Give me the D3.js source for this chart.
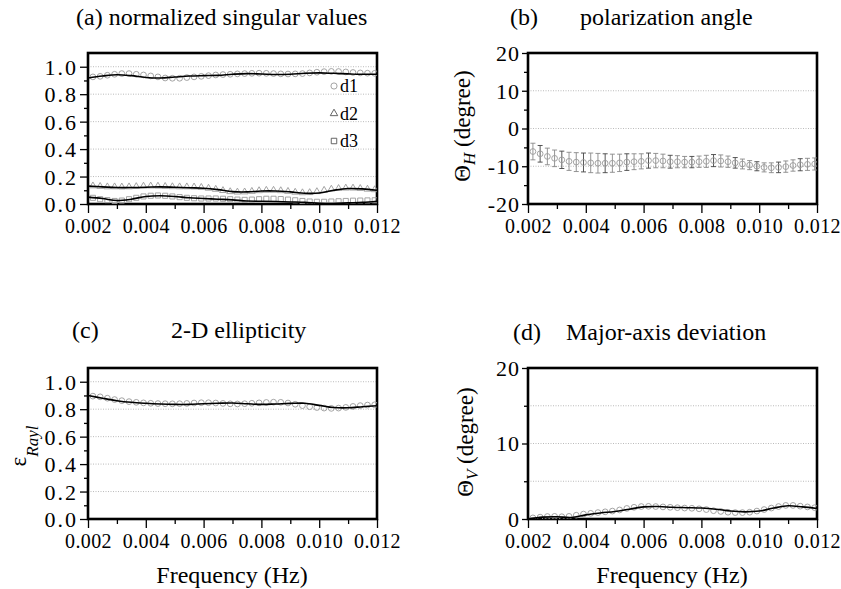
<!DOCTYPE html>
<html><head><meta charset="utf-8">
<script src="https://cdn.jsdelivr.net/npm/d3@7"></script>
<style>body{margin:0;background:#fff}svg{display:block}text{font-family:"Liberation Serif","Times New Roman",serif;fill:#000}</style>
</head><body>
<svg id="c" width="841" height="589"></svg>
<script>
// ---------- data ----------
const freqs = [0.00217,0.00242,0.00267,0.00292,0.00317,0.00342,0.00367,0.00392,0.00417,0.00442,
  0.00467,0.00492,0.00517,0.00542,0.00567,0.00592,0.00617,0.00642,0.00667,0.00692,
  0.00717,0.00742,0.00767,0.00792,0.00817,0.00842,0.00867,0.00892,0.00917,0.00942,
  0.00967,0.00992,0.01017,0.01042,0.01067,0.01092,0.01117,0.01142,0.01167,0.01192];
const fitFreqs = [0.002,0.0025,0.003,0.0035,0.004,0.0045,0.005,0.0055,0.006,0.0065,0.007,
  0.0075,0.008,0.0085,0.009,0.0095,0.010,0.0105,0.011,0.0115,0.012];
const xTicks = [0.002,0.004,0.006,0.008,0.010,0.012];

// (a) normalized singular values
const d1 = [0.926,0.930,0.938,0.945,0.950,0.950,0.945,0.940,0.933,0.926,
  0.918,0.916,0.916,0.921,0.926,0.930,0.935,0.940,0.943,0.945,
  0.948,0.950,0.952,0.953,0.952,0.950,0.948,0.947,0.948,0.950,
  0.955,0.960,0.964,0.966,0.965,0.962,0.958,0.955,0.953,0.952];
const d2 = [0.132,0.128,0.125,0.125,0.124,0.125,0.127,0.130,0.131,0.130,
  0.128,0.126,0.125,0.125,0.124,0.121,0.115,0.107,0.098,0.090,
  0.087,0.088,0.092,0.097,0.100,0.100,0.097,0.092,0.086,0.082,
  0.083,0.090,0.100,0.108,0.113,0.116,0.116,0.113,0.108,0.104];
const d3v = [0.045,0.035,0.028,0.022,0.025,0.035,0.045,0.055,0.060,0.062,
  0.060,0.055,0.050,0.045,0.042,0.040,0.040,0.040,0.038,0.035,
  0.032,0.030,0.032,0.035,0.038,0.038,0.036,0.032,0.027,0.022,
  0.018,0.016,0.016,0.018,0.020,0.022,0.024,0.025,0.026,0.027];
const d1Fit = [0.918,0.932,0.942,0.935,0.922,0.918,0.925,0.932,0.935,0.937,0.945,
  0.950,0.947,0.943,0.945,0.952,0.955,0.952,0.948,0.945,0.945];
const d2Fit = [0.130,0.125,0.120,0.120,0.122,0.125,0.122,0.118,0.115,0.105,0.090,
  0.088,0.095,0.095,0.088,0.078,0.080,0.100,0.113,0.110,0.100];
const d3Fit = [0.050,0.040,0.025,0.035,0.055,0.060,0.055,0.045,0.040,0.035,0.030,
  0.022,0.020,0.018,0.015,0.012,0.006,0.004,0.008,0.012,0.020];
const legendLabels = ["d1","d2","d3"];

// (b) polarization angle (degree) with error half-widths
const thetaH = [-6.1,-6.7,-7.4,-7.9,-8.3,-8.7,-8.9,-9.0,-9.1,-9.2,
  -9.2,-9.2,-9.1,-8.9,-8.8,-8.7,-8.5,-8.5,-8.6,-8.8,
  -8.8,-8.9,-8.9,-8.8,-8.7,-8.5,-8.6,-8.8,-9.1,-9.4,
  -9.7,-10.0,-10.3,-10.4,-10.3,-10.1,-9.8,-9.6,-9.5,-9.4];
const thetaHErr = [2.2,2.2,2.2,2.2,2.3,2.4,2.5,2.5,2.6,2.6,
  2.5,2.4,2.3,2.2,2.1,2.0,2.0,1.9,1.8,1.7,
  1.6,1.5,1.5,1.5,1.6,1.6,1.6,1.5,1.4,1.3,
  1.2,1.2,1.2,1.3,1.4,1.5,1.5,1.6,1.6,1.6];

// (c) 2-D ellipticity
const eps = [0.895,0.890,0.880,0.870,0.862,0.855,0.850,0.846,0.843,0.841,
  0.840,0.839,0.840,0.842,0.845,0.847,0.847,0.845,0.842,0.839,
  0.838,0.840,0.843,0.846,0.849,0.851,0.850,0.845,0.836,0.826,
  0.818,0.812,0.808,0.806,0.808,0.813,0.820,0.826,0.830,0.832];
const epsFit = [0.900,0.880,0.862,0.850,0.843,0.838,0.835,0.835,0.840,0.843,0.845,
  0.840,0.835,0.838,0.842,0.843,0.828,0.812,0.810,0.818,0.825];

// (d) major-axis deviation (degree)
const thetaV = [0.15,0.25,0.33,0.35,0.30,0.35,0.50,0.65,0.75,0.85,
  0.95,1.05,1.20,1.40,1.55,1.65,1.68,1.65,1.60,1.55,
  1.50,1.45,1.42,1.35,1.25,1.10,1.00,0.90,0.85,0.85,
  0.90,1.05,1.25,1.45,1.65,1.80,1.80,1.70,1.60,1.50];
const thetaVFit = [0.00,0.25,0.30,0.20,0.55,0.80,1.00,1.30,1.60,1.65,1.55,
  1.50,1.45,1.30,1.05,0.95,1.05,1.45,1.75,1.60,1.40];

// ---------- drawing ----------
const svg = d3.select("#c");
const GRAY = "#9a9a9a";
const FONT = "'Liberation Serif','Times New Roman',serif";
const intFmt = d => String(d); // plain hyphen minus, as in the original

function panel(o){
  const g = svg.append("g");
  const x = d3.scaleLinear().domain([0.002,0.012]).range([o.left,o.right]);
  const y = d3.scaleLinear().domain(o.ydom).range([o.bottom,o.top]);
  const clipId = "clip"+o.id;
  g.append("clipPath").attr("id",clipId).append("rect")
    .attr("x",o.left).attr("y",o.top).attr("width",o.right-o.left).attr("height",o.bottom-o.top);
  g.selectAll(".grid").data(o.grid).enter().append("line")
    .attr("x1",o.left).attr("x2",o.right).attr("y1",d=>y(d)).attr("y2",d=>y(d))
    .attr("stroke","#aaa").attr("stroke-width",0.8).attr("stroke-dasharray","1,1.5");
  const xa = g.append("g").attr("transform",`translate(0,${o.bottom})`)
    .call(d3.axisBottom(x).tickValues(xTicks).tickFormat(d3.format(".3f")).tickSize(9).tickPadding(6));
  const xm = g.append("g").attr("transform",`translate(0,${o.bottom})`)
    .call(d3.axisBottom(x).tickValues([0.003,0.005,0.007,0.009,0.011]).tickFormat("").tickSize(5));
  const ya = g.append("g").attr("transform",`translate(${o.left},0)`)
    .call(d3.axisLeft(y).tickValues(o.yticks).tickFormat(o.yfmt).tickSize(o.ytick[0]).tickPadding(o.ypad));
  const ym = g.append("g").attr("transform",`translate(${o.left},0)`)
    .call(d3.axisLeft(y).tickValues(o.yminor).tickFormat("").tickSize(o.ytick[1]));
  [xa,xm,ya,ym].forEach(a=>{a.attr("font-family",null).attr("font-size",null);
    a.select(".domain").remove();a.selectAll("line").attr("stroke","#000").attr("stroke-width",1.3);});
  xa.selectAll("text").style("font-family",FONT).style("font-size","20px").style("letter-spacing","0.4px");
  ya.selectAll("text").style("font-family",FONT).style("font-size",o.yfs).style("letter-spacing",o.yls).attr("dy","0.34em");
  g.append("rect").attr("x",o.left).attr("y",o.top).attr("width",o.right-o.left).attr("height",o.bottom-o.top)
    .attr("fill","none").attr("stroke","#000").attr("stroke-width",2.6);
  const pg = g.append("g").attr("clip-path",`url(#${clipId})`);
  o.draw(pg,x,y);
  o.title.forEach(t=>g.append("text").attr("x",t.x).attr("y",t.y).style("font-size","24px").text(t.s));
  return {g,x,y};
}

function markers(g,x,y,vals,shape){
  g.append("g").selectAll("path").data(vals).enter().append("path")
    .attr("transform",(d,i)=>`translate(${x(freqs[i])},${y(d)})`)
    .attr("fill","none").attr("stroke",GRAY).attr("stroke-width",0.9)
    .attr("d",d3.symbol().type(shape).size(shape===d3.symbolCircle?26:(shape===d3.symbolTriangle?20:26)));
}
function fitLine(g,x,y,vals){
  g.append("path").datum(vals)
    .attr("d",d3.line().x((d,i)=>x(fitFreqs[i])).y(d=>y(d)).curve(d3.curveCatmullRom))
    .attr("fill","none").attr("stroke","#000").attr("stroke-width",1.6);
}

// (a)
const pa = panel({id:"a",left:88,right:377,top:53,bottom:204,ydom:[0,1.1],
  grid:[0.2,0.4,0.6,0.8,1.0],yticks:[0,0.2,0.4,0.6,0.8,1.0],yminor:[0.1,0.3,0.5,0.7,0.9],yfmt:d3.format(".1f"),
  ytick:[8,4],ypad:2,yfs:"22px",yls:"2px",
  title:[{x:76,y:25,s:"(a) normalized singular values"}],
  draw:(g,x,y)=>{
    markers(g,x,y,d1,d3.symbolCircle);
    markers(g,x,y,d2,d3.symbolTriangle);
    markers(g,x,y,d3v,d3.symbolSquare);
    fitLine(g,x,y,d1Fit);fitLine(g,x,y,d2Fit);fitLine(g,x,y,d3Fit);
  }});
const legShapes=[d3.symbolCircle,d3.symbolTriangle,d3.symbolSquare];
legendLabels.forEach((s,i)=>{
  const yy = 86+i*27.5;
  pa.g.append("path").attr("transform",`translate(334,${yy})`)
    .attr("d",d3.symbol().type(legShapes[i]).size(i===0?30:(i===1?24:30)))
    .attr("fill","none").attr("stroke",i===0?GRAY:"#555").attr("stroke-width",0.9);
  pa.g.append("text").attr("x",340).attr("y",yy).attr("dy","0.35em").style("font-size","18px").text(s);
});

// (b)
panel({id:"b",left:528,right:817,top:53,bottom:204,ydom:[-20,20],
  grid:[-10,0,10],yticks:[-20,-10,0,10,20],yminor:[-15,-5,5,15],yfmt:intFmt,
  ytick:[6,4],ypad:2,yfs:"22px",yls:"1px",
  title:[{x:510,y:25,s:"(b)"},{x:580,y:25,s:"polarization angle"}],
  draw:(g,x,y)=>{
    const eb = g.append("g");
    thetaH.forEach((v,i)=>{
      const cx=x(freqs[i]), e=thetaHErr[i];
      const col = i%3===1 ? "#444" : "#888";
      eb.append("line").attr("x1",cx).attr("x2",cx).attr("y1",y(v+e)).attr("y2",y(v-e)).attr("stroke",col).attr("stroke-width",0.9);
      [v+e,v-e].forEach(w=>eb.append("line").attr("x1",cx-2.5).attr("x2",cx+2.5).attr("y1",y(w)).attr("y2",y(w)).attr("stroke",col).attr("stroke-width",0.9));
    });
    markers(g,x,y,thetaH,d3.symbolCircle);
  }});
svg.append("text").attr("transform","translate(470,126) rotate(-90)").attr("text-anchor","middle").style("font-size","23px")
  .call(t=>{t.append("tspan").text("Θ");t.append("tspan").attr("dy",5).style("font-style","italic").style("font-size","17px").text("H");
            t.append("tspan").attr("dy",-5).text(" (degree)");});

// (c)
panel({id:"c",left:88,right:377,top:368,bottom:519,ydom:[0,1.1],
  grid:[0.2,0.4,0.6,0.8,1.0],yticks:[0,0.2,0.4,0.6,0.8,1.0],yminor:[0.1,0.3,0.5,0.7,0.9],yfmt:d3.format(".1f"),
  ytick:[8,4],ypad:2,yfs:"22px",yls:"2px",
  title:[{x:72,y:338,s:"(c)"},{x:171,y:338,s:"2-D ellipticity"}],
  draw:(g,x,y)=>{markers(g,x,y,eps,d3.symbolCircle);fitLine(g,x,y,epsFit);}});
svg.append("text").attr("transform","translate(26,446) rotate(-90)").attr("text-anchor","middle").style("font-size","23px")
  .call(t=>{t.append("tspan").text("ε");t.append("tspan").attr("dy",12).style("font-style","italic").style("font-size","17px").text("Rayl");});

// (d)
panel({id:"d",left:528,right:817,top:368,bottom:519,ydom:[0,20],
  grid:[5,10,15],yticks:[0,10,20],yminor:[5,15],yfmt:intFmt,
  ytick:[6,4],ypad:2,yfs:"22px",yls:"1px",
  title:[{x:513,y:340,s:"(d)"},{x:566,y:340,s:"Major-axis deviation"}],
  draw:(g,x,y)=>{markers(g,x,y,thetaV,d3.symbolCircle);fitLine(g,x,y,thetaVFit);}});
svg.append("text").attr("transform","translate(473,442) rotate(-90)").attr("text-anchor","middle").style("font-size","23px")
  .call(t=>{t.append("tspan").text("Θ");t.append("tspan").attr("dy",5).style("font-style","italic").style("font-size","17px").text("V");
            t.append("tspan").attr("dy",-5).text(" (degree)");});

// x-axis titles
svg.append("text").attr("x",232).attr("y",583).attr("text-anchor","middle").style("font-size","24px").text("Frequency (Hz)");
svg.append("text").attr("x",672).attr("y",583).attr("text-anchor","middle").style("font-size","24px").text("Frequency (Hz)");
</script>
</body></html>
